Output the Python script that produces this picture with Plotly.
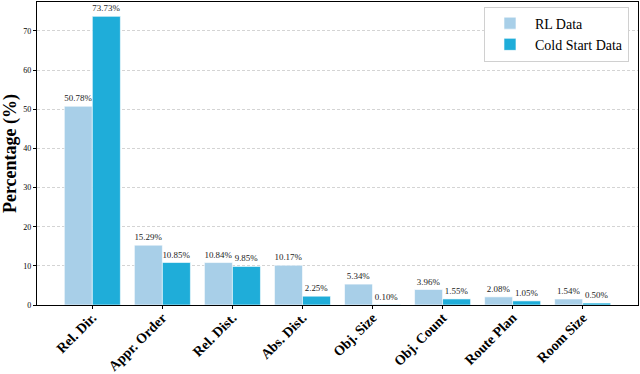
import plotly.graph_objects as go

categories = ["Rel. Dir.", "Appr. Order", "Rel. Dist.", "Abs. Dist.",
              "Obj. Size", "Obj. Count", "Route Plan", "Room Size"]
rl_data = [50.78, 15.29, 10.84, 10.17, 5.34, 3.96, 2.08, 1.54]
cold_start = [73.73, 10.85, 9.85, 2.25, 0.10, 1.55, 1.05, 0.50]
y_ticks = [0, 10, 20, 30, 40, 50, 60, 70]

font = "Liberation Serif"

fig = go.Figure()
fig.add_trace(go.Bar(
    name="RL Data", x=categories, y=rl_data,
    marker=dict(color="#a8cfe8", line=dict(color="white", width=0.6)),
    texttemplate="%{y:.2f}%", textposition="outside",
    textfont=dict(size=9, color="#222", family=font), cliponaxis=False,
))
fig.add_trace(go.Bar(
    name="Cold Start Data", x=categories, y=cold_start,
    marker=dict(color="#1fadd9", line=dict(color="white", width=0.6)),
    texttemplate="%{y:.2f}%", textposition="outside",
    textfont=dict(size=9, color="#222", family=font), cliponaxis=False,
))

fig.update_layout(
    width=640, height=374,
    margin=dict(l=37, r=2, t=2, b=69),
    barmode="group", bargap=0.2, bargroupgap=0,
    plot_bgcolor="white", paper_bgcolor="white",
    font=dict(family=font, color="black"),
    uniformtext=dict(mode="show", minsize=8),
    legend=dict(
        x=0.985, y=0.985, xanchor="right", yanchor="top",
        bgcolor="white", bordercolor="#d0d0d0", borderwidth=1,
        font=dict(size=14, family=font), itemwidth=40,
    ),
    xaxis=dict(
        range=[-0.79, 7.79], tickangle=-45, automargin=False,
        tickfont=dict(size=14, family=font, weight="bold"),
        ticklabelstandoff=-5,
        showline=True, linecolor="black", linewidth=1.2, mirror=True,
        ticks="outside", ticklen=3, tickcolor="black",
    ),
    yaxis=dict(
        range=[0, 77.4], tickvals=y_ticks, automargin=False,
        tickfont=dict(size=8, family=font),
        title=dict(text="Percentage (%)", font=dict(size=18, family=font, weight="bold"), standoff=8),
        showgrid=True, gridcolor="#d4d4d4", griddash="3px,2px", gridwidth=0.8,
        showline=True, linecolor="black", linewidth=1.2, mirror=True,
        ticks="outside", ticklen=3, tickcolor="black", zeroline=False,
    ),
)

# page body has a default margin; drop it so the figure fills the window
fig.write_html("out.html", config={"displayModeBar": False},
               post_script="document.body.style.margin='0';")
